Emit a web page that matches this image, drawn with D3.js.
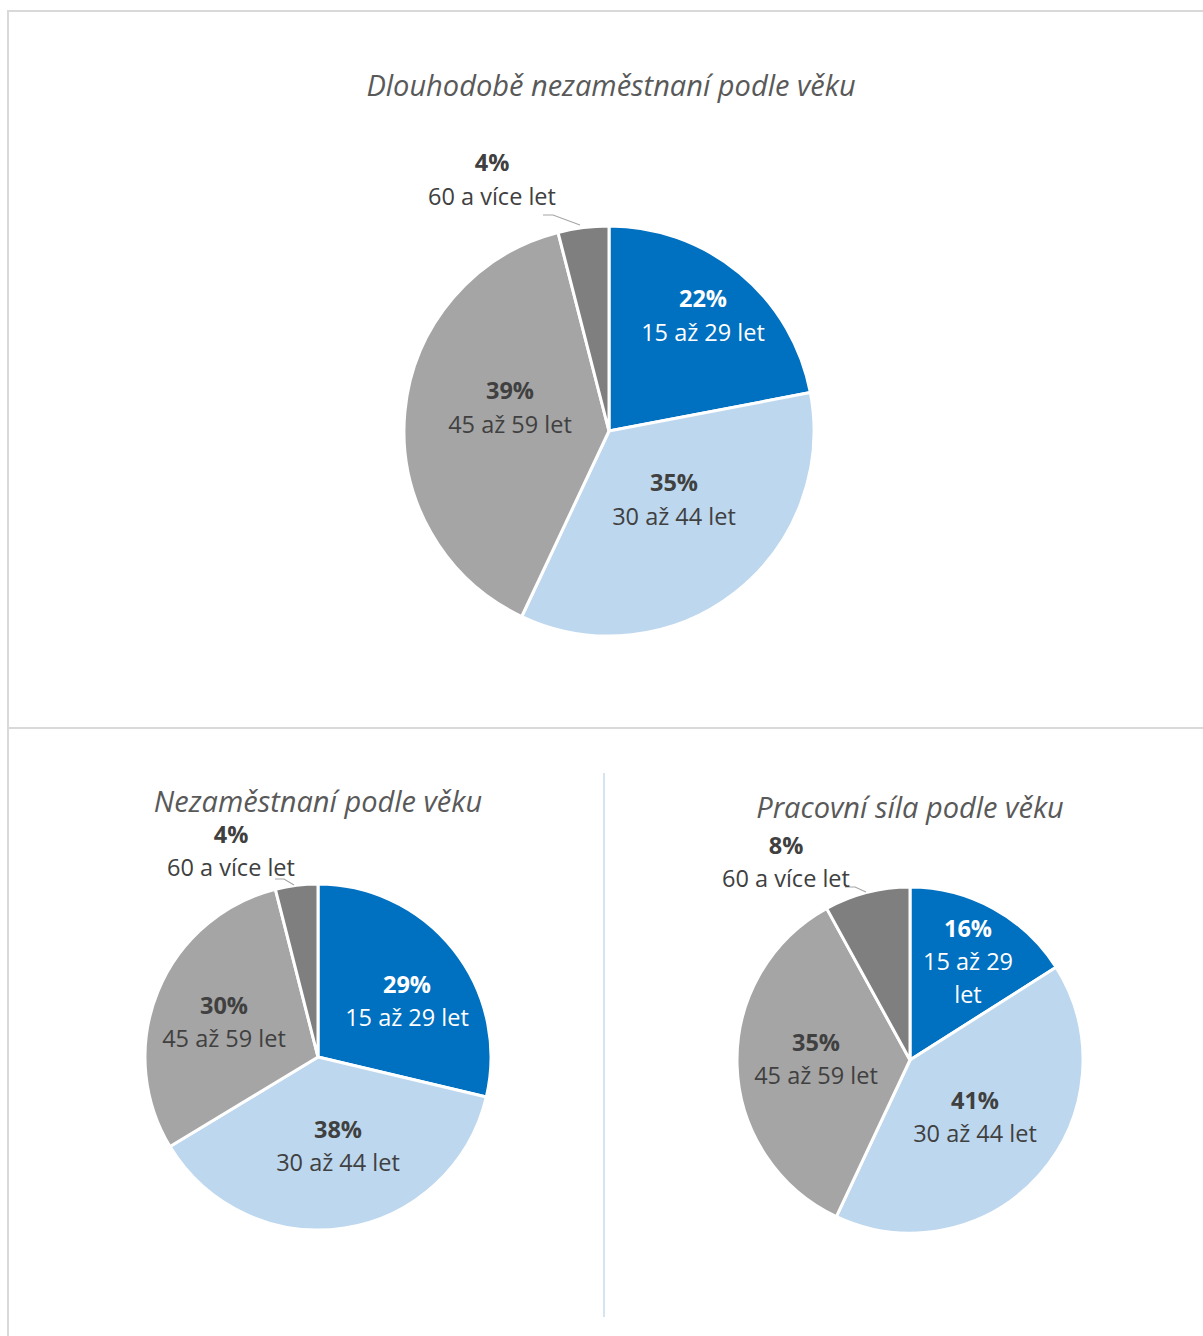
<!DOCTYPE html>
<html>
<head>
<meta charset="utf-8">
<script src="https://cdn.jsdelivr.net/npm/d3@7"></script>
<style>
  html, body { margin: 0; padding: 0; background: #fff; }
  svg { display: block; }
  text { font-family: "Open Sans", "Noto Sans", sans-serif; }
</style>
</head>
<body>
<svg id="chart" width="1203" height="1336"></svg>
<script>
// Age groups shared by all three pies
const categories = ["15 až 29 let", "30 až 44 let", "45 až 59 let", "60 a více let"];

// Shares in percent, per chart
const longTermValues = [22, 35, 39, 4];
const unemployedValues = [29, 38, 30, 4];
const laborForceValues = [16, 41, 35, 8];

// Chart titles
const titles = [
  "Dlouhodobě nezaměstnaní podle věku",
  "Nezaměstnaní podle věku",
  "Pracovní síla podle věku"
];

// Slice colours, one per age group
const colors = ["#0070C0", "#BDD7EE", "#A5A5A5", "#7F7F7F"];
const labelColors = ["#ffffff", "#404040", "#404040", "#404040"];

// Layout of each pie: centre, radius, title position, label offsets (from centre)
const layouts = [
  {
    values: longTermValues, title: titles[0],
    cx: 609, cy: 431, r: 205, titleX: 611, titleY: 84, titleSize: 29, fontSize: 23.5, lineGap: 34,
    labels: [
      { dx: 94, dy: -116 },
      { dx: 65, dy: 68 },
      { dx: -99, dy: -24 },
      { dx: -117, dy: -252, leader: [[-66, -216], [-56, -216], [-29, -206]] }
    ]
  },
  {
    values: unemployedValues, title: titles[1],
    cx: 318, cy: 1057, r: 173, titleX: 318, titleY: 800, titleSize: 29, fontSize: 23.5, lineGap: 33,
    labels: [
      { dx: 89, dy: -57 },
      { dx: 20, dy: 88 },
      { dx: -94, dy: -35.5 },
      { dx: -87, dy: -207, leader: [[-43, -178], [-34, -178], [-24, -172]] }
    ]
  },
  {
    values: laborForceValues, title: titles[2],
    cx: 910, cy: 1060, r: 173, titleX: 910, titleY: 806, titleSize: 29, fontSize: 23.5, lineGap: 33,
    labels: [
      { dx: 58, dy: -99, lines: ["15 až 29", "let"] },
      { dx: 65, dy: 56 },
      { dx: -94, dy: -1.5 },
      { dx: -124, dy: -198.5, leader: [[-65, -173], [-55, -173], [-44, -168]] }
    ]
  }
];

const svg = d3.select("#chart");

// Panel frame and dividers
const frame = svg.append("g").attr("class", "frame");
frame.append("line").attr("x1", 8).attr("x2", 8).attr("y1", 10).attr("y2", 1336)
  .attr("stroke", "#d9d9d9").attr("stroke-width", 2);
frame.append("line").attr("x1", 7).attr("x2", 1203).attr("y1", 11).attr("y2", 11)
  .attr("stroke", "#d9d9d9").attr("stroke-width", 2);
frame.append("line").attr("x1", 7).attr("x2", 1203).attr("y1", 728).attr("y2", 728)
  .attr("stroke", "#d9d9d9").attr("stroke-width", 2);
frame.append("line").attr("x1", 604).attr("x2", 604).attr("y1", 773).attr("y2", 1317)
  .attr("stroke", "#d5e3f3").attr("stroke-width", 2);

const pie = d3.pie().sort(null).value(d => d);
const color = d3.scaleOrdinal().domain(categories).range(colors);
const labelColor = d3.scaleOrdinal().domain(categories).range(labelColors);

layouts.forEach(cfg => {
  const g = svg.append("g").attr("transform", `translate(${cfg.cx},${cfg.cy})`);
  const arc = d3.arc().innerRadius(0).outerRadius(cfg.r);
  const arcs = pie(cfg.values);

  g.selectAll("path.slice")
    .data(arcs)
    .join("path")
    .attr("class", "slice")
    .attr("d", arc)
    .attr("fill", (d, i) => color(categories[i]))
    .attr("stroke", "#fff")
    .attr("stroke-width", 3)
    .attr("stroke-linejoin", "round");

  // Title
  svg.append("text")
    .attr("x", cfg.titleX).attr("y", cfg.titleY)
    .attr("text-anchor", "middle").attr("dominant-baseline", "central")
    .attr("font-style", "italic")
    .attr("font-size", cfg.titleSize)
    .attr("fill", "#595959")
    .text(cfg.title);

  // Data labels: bold percentage above the age group
  arcs.forEach((a, i) => {
    const lab = cfg.labels[i];
    const lines = lab.lines || [categories[i]];
    const n = 1 + lines.length;
    const top = lab.dy - (n - 1) * cfg.lineGap / 2;
    const fill = labelColor(categories[i]);

    if (lab.leader) {
      g.append("path")
        .attr("d", d3.line()(lab.leader))
        .attr("fill", "none")
        .attr("stroke", "#a6a6a6")
        .attr("stroke-width", 1.2);
    }

    const t = g.append("text")
      .attr("text-anchor", "middle")
      .attr("font-size", cfg.fontSize)
      .attr("fill", fill);
    t.append("tspan")
      .attr("x", lab.dx).attr("y", top)
      .attr("dominant-baseline", "central")
      .attr("font-weight", "bold")
      .text(a.data + "%");
    lines.forEach((ln, k) => {
      t.append("tspan")
        .attr("x", lab.dx).attr("y", top + (k + 1) * cfg.lineGap)
        .attr("dominant-baseline", "central")
        .text(ln);
    });
  });
});
</script>
</body>
</html>
